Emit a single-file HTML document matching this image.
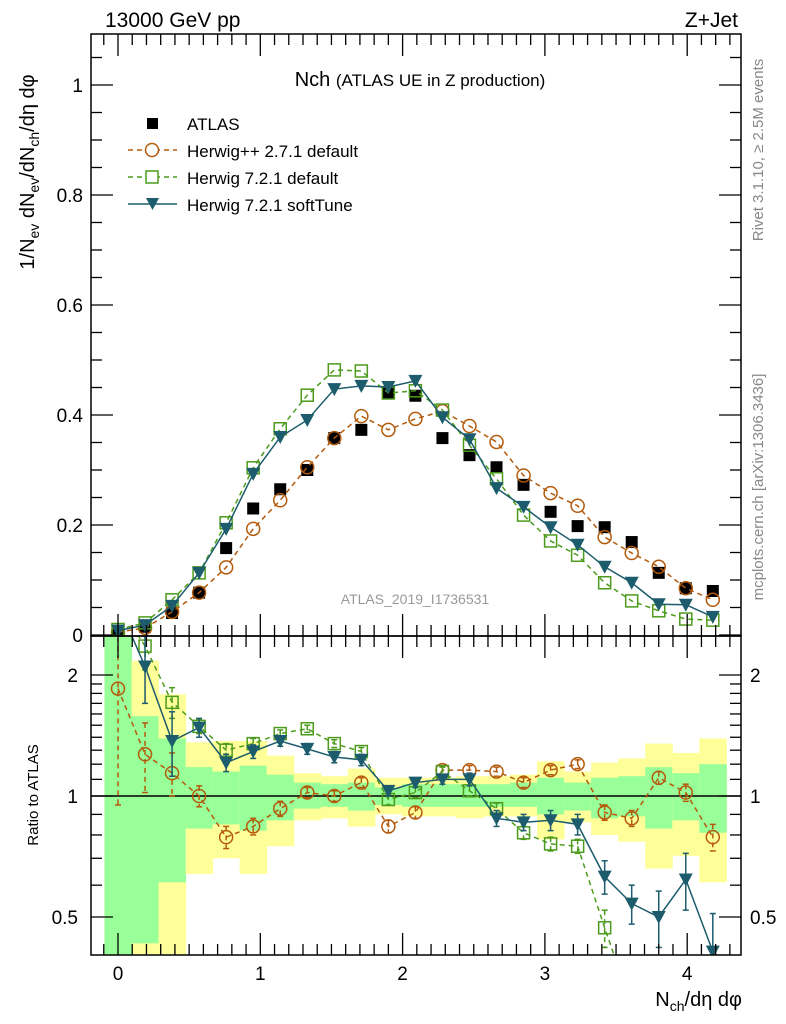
<!DOCTYPE html>
<html><head><meta charset="utf-8"><style>
html,body{margin:0;background:#fff;width:786px;height:1024px;overflow:hidden;position:relative;}
svg{display:block;font-family:"Liberation Sans",sans-serif;}
</style></head><body>
<svg id="c" width="786" height="1024" viewBox="0 0 786 1024"></svg>
<script>
const binsX=[0,0.19,0.38,0.57,0.76,0.95,1.14,1.33,1.52,1.71,1.9,2.09,2.28,2.47,2.66,2.85,3.04,3.23,3.42,3.61,3.8,3.99,4.18];
const atlas=[0.005,0.015,0.04,0.077,0.158,0.23,0.265,0.30,0.358,0.373,0.44,0.435,0.358,0.327,0.305,0.273,0.224,0.198,0.196,0.169,0.113,0.085,0.08];
const hpp=[0.005,0.013,0.042,0.077,0.123,0.193,0.245,0.305,0.358,0.398,0.373,0.393,0.407,0.38,0.351,0.29,0.258,0.235,0.178,0.149,0.124,0.085,0.064];
const h7=[0.01,0.022,0.064,0.113,0.204,0.304,0.375,0.436,0.482,0.48,0.44,0.444,0.409,0.345,0.284,0.218,0.171,0.145,0.095,0.062,0.044,0.029,0.027];
const soft=[0.008,0.018,0.053,0.113,0.193,0.293,0.36,0.391,0.447,0.453,0.451,0.462,0.396,0.356,0.267,0.233,0.196,0.164,0.124,0.095,0.056,0.055,0.033];
const rHpp=[1.85,1.27,1.14,1.0,0.79,0.84,0.93,1.02,1.0,1.08,0.84,0.91,1.16,1.16,1.15,1.08,1.16,1.2,0.91,0.88,1.11,1.02,0.79];
const rH7=[3.0,2.36,1.71,1.49,1.30,1.35,1.43,1.47,1.35,1.29,0.98,1.02,1.15,1.03,0.93,0.81,0.76,0.75,0.47,0.3,0.25,0.2,0.2];
const rSoft=[3.0,2.1,1.37,1.48,1.21,1.29,1.37,1.31,1.25,1.23,1.03,1.08,1.10,1.10,0.88,0.86,0.87,0.85,0.63,0.54,0.50,0.62,0.41];
const errHpp=[0.9,0.25,0.14,0.06,0.05,0.04,0.04,0.03,0.03,0.03,0.03,0.03,0.03,0.03,0.03,0.03,0.03,0.03,0.04,0.04,0.04,0.05,0.06];
const errH7=[0.3,0.3,0.15,0.06,0.05,0.04,0.03,0.03,0.03,0.03,0.03,0.03,0.03,0.03,0.03,0.03,0.03,0.03,0.05,0.05,0.05,0.05,0.05];
const errSoft=[0.5,0.4,0.25,0.08,0.06,0.05,0.04,0.04,0.04,0.04,0.03,0.03,0.03,0.04,0.04,0.04,0.05,0.05,0.06,0.06,0.08,0.1,0.1];
const yUp=[3,2.17,1.79,1.36,1.37,1.37,1.26,1.14,1.12,1.17,1.11,1.11,1.11,1.12,1.12,1.13,1.22,1.15,1.21,1.24,1.35,1.28,1.39];
const gUp=[3,1.58,1.39,1.18,1.15,1.19,1.13,1.08,1.07,1.08,1.05,1.07,1.07,1.07,1.07,1.08,1.11,1.08,1.11,1.12,1.18,1.14,1.20];
const gLo=[0.3,0.43,0.61,0.83,0.85,0.82,0.87,0.93,0.94,0.92,0.95,0.94,0.94,0.94,0.94,0.94,0.90,0.92,0.88,0.89,0.83,0.87,0.81];
const yLo=[0.3,0.3,0.3,0.64,0.70,0.64,0.75,0.87,0.88,0.84,0.90,0.89,0.89,0.88,0.89,0.89,0.78,0.86,0.80,0.77,0.66,0.71,0.61];
const yTicks=[0,0.2,0.4,0.6,0.8,1];
const yTickLabels=["0","0.2","0.4","0.6","0.8","1"];
const xTicks=[0,1,2,3,4];
const rTicks=[0.5,1,2];

const S=document.getElementById('c');const NS='http://www.w3.org/2000/svg';
const L=91,R=741,T=34,MB=636,RB=955;
const X=v=>118+v*142.3;
const Y=v=>635-v*550;
const RY=v=>796-Math.log2(v)*121;
function el(tag,a,parent){const e=document.createElementNS(NS,tag);for(const k in a)e.setAttribute(k,a[k]);(parent||S).appendChild(e);return e;}
function txt(s,a,parent){const e=el('text',a,parent);e.textContent=s;return e;}
const cO='#b35a0c',cG='#4c9b1c',cS='#1c5c6c';

const defs=el('defs',{});
const c1=el('clipPath',{id:'cm'},defs);el('rect',{x:L,y:T,width:R-L,height:MB-T},c1);
const c2=el('clipPath',{id:'cr'},defs);el('rect',{x:L,y:MB,width:R-L,height:RB-MB},c2);
const gM=el('g',{'clip-path':'url(#cm)'});

const gR=el('g',{'clip-path':'url(#cr)'});


const hw=0.095;
binsX.forEach((x,i)=>{
  const y1=el('rect',{x:X(x-hw),y:RY(yUp[i]),width:X(x+hw)-X(x-hw)+0.5,height:RY(yLo[i])-RY(yUp[i]),fill:'#ffff99'},gR);
  
  const g1=el('rect',{x:X(x-hw),y:RY(gUp[i]),width:X(x+hw)-X(x-hw)+0.5,height:RY(gLo[i])-RY(gUp[i]),fill:'#99ff99'},gR);
  
});
el('line',{x1:L,x2:R,y1:RY(1),y2:RY(1),stroke:'#000','stroke-width':1.5},gR);

function marker(type,cx,cy,col,parent){
  let m;
  if(type==='sq') m=el('rect',{x:cx-6,y:cy-6,width:12,height:12,fill:'#000'},parent);
  else if(type==='circ') m=el('circle',{cx,cy,r:6.5,fill:'none',stroke:col,'stroke-width':1.5},parent);
  else if(type==='osq') m=el('rect',{x:cx-6,y:cy-6,width:12,height:12,fill:'none',stroke:col,'stroke-width':1.5},parent);
  else m=el('path',{d:`M${cx-7},${cy-6}L${cx+7},${cy-6}L${cx},${cy+7}Z`,fill:col},parent);
  return m;
}
function series(vals,yf,col,dash,type,name,parent,errs){
  const pts=binsX.map((x,i)=>X(x)+','+yf(vals[i])).join(' ');
  const pl=el('polyline',{points:pts,fill:'none',stroke:col,'stroke-width':1.5,'stroke-dasharray':dash||'none'},parent);
  
  binsX.forEach((x,i)=>{
    if(errs){const a=yf(vals[i]+errs[i]),b=yf(Math.max(vals[i]-errs[i],0.05));
      el('line',{x1:X(x),x2:X(x),y1:a,y2:b,stroke:col,'stroke-width':1.5,'stroke-dasharray':dash||'none'},parent);
      el('line',{x1:X(x)-3,x2:X(x)+3,y1:a,y2:a,stroke:col,'stroke-width':1.5},parent);
      el('line',{x1:X(x)-3,x2:X(x)+3,y1:b,y2:b,stroke:col,'stroke-width':1.5},parent);}
    const m=marker(type,X(x),yf(vals[i]),col,parent);
    
  });
}
binsX.forEach((x,i)=>{const m=marker('sq',X(x),Y(atlas[i]),'#000',gM);});
series(hpp,Y,cO,'5,4','circ','herwigpp-default',gM);
series(h7,Y,cG,'5,4','osq','herwig7-default',gM);
series(soft,Y,cS,null,'tri','herwig7-softtune',gM);
series(rHpp,RY,cO,'5,4','circ','ratio-herwigpp',gR,errHpp);
series(rH7,RY,cG,'5,4','osq','ratio-herwig7',gR,errH7);
series(rSoft,RY,cS,null,'tri','ratio-softtune',gR,errSoft);

el('rect',{x:L,y:T,width:R-L,height:MB-T,fill:'none',stroke:'#000','stroke-width':1.5});
el('rect',{x:L,y:MB,width:R-L,height:RB-MB,fill:'none',stroke:'#000','stroke-width':1.5});
for(let v=0;v<=1.09;v+=0.05){const yy=Y(v);const maj=Math.abs(v/0.2-Math.round(v/0.2))<1e-6;const len=maj?22:11;
  el('line',{x1:L,x2:L+len,y1:yy,y2:yy,stroke:'#000','stroke-width':1.3});el('line',{x1:R,x2:R-len,y1:yy,y2:yy,stroke:'#000','stroke-width':1.3});}
yTicks.forEach((v,i)=>{const t=txt(yTickLabels[i],{x:83,y:Y(v)+7,'font-size':19,'text-anchor':'end'});});
for(let k=-1;k<=43;k++){const v=k/10;const xx=X(v);if(xx<L||xx>R)continue;const maj=k%10===0;const len=maj?22:11;
  [[MB,-1],[T,1],[RB,-1],[MB,1]].forEach(([y0,d])=>el('line',{x1:xx,x2:xx,y1:y0,y2:y0+d*len,stroke:'#000','stroke-width':1.3}));}
xTicks.forEach(v=>{const t=txt(String(v),{x:X(v),y:980,'font-size':19,'text-anchor':'middle'});});
[0.4,0.5,0.6,0.7,0.8,0.9,1,1.1,1.2,1.3,1.4,1.5,1.6,1.7,1.8,1.9,2].forEach(v=>{const yy=RY(v);if(yy>RB||yy<MB)return;const maj=rTicks.includes(v);const len=maj?22:11;
  el('line',{x1:L,x2:L+len,y1:yy,y2:yy,stroke:'#000','stroke-width':1.3});el('line',{x1:R,x2:R-len,y1:yy,y2:yy,stroke:'#000','stroke-width':1.3});});
rTicks.forEach(v=>{const l=String(v);const a=txt(l,{x:78,y:RY(v)+7,'font-size':19,'text-anchor':'end'});
  const b=txt(l,{x:750,y:RY(v)+7,'font-size':19});});
</script>
<svg style="position:absolute;left:0;top:0" width="786" height="1024">
<g font-family="Liberation Sans, sans-serif">
<text x="105" y="27" font-size="21">13000 GeV pp</text>
<text x="738" y="27" font-size="21" text-anchor="end">Z+Jet</text>
<text x="420" y="86" font-size="20" text-anchor="middle">Nch <tspan font-size="17">(ATLAS UE in Z production)</tspan></text>
<g font-size="17">
<rect x="147" y="118" width="11" height="11" fill="#000"/>
<text x="187" y="130">ATLAS</text>
<line x1="128" x2="177" y1="150" y2="150" stroke="#b35a0c" stroke-width="1.5" stroke-dasharray="5,4"/><circle cx="152" cy="150" r="6.5" fill="#fff" stroke="#b35a0c" stroke-width="1.5"/>
<text x="187" y="157">Herwig++ 2.7.1 default</text>
<line x1="128" x2="177" y1="177" y2="177" stroke="#4c9b1c" stroke-width="1.5" stroke-dasharray="5,4"/><rect x="146" y="171" width="12" height="12" fill="#fff" stroke="#4c9b1c" stroke-width="1.5"/>
<text x="187" y="184">Herwig 7.2.1 default</text>
<line x1="128" x2="177" y1="204" y2="204" stroke="#1c5c6c" stroke-width="1.5"/><path d="M146,198L159,198L152.5,210Z" fill="#1c5c6c"/>
<text x="187" y="211">Herwig 7.2.1 softTune</text>
</g>
<text x="415" y="604" font-size="14" fill="#999" text-anchor="middle">ATLAS_2019_I1736531</text>
<text transform="translate(34,172) rotate(-90)" font-size="20" text-anchor="middle">1/N<tspan font-size="14" dy="5">ev</tspan><tspan dy="-5"> dN</tspan><tspan font-size="14" dy="5">ev</tspan><tspan dy="-5">/dN</tspan><tspan font-size="14" dy="5">ch</tspan><tspan dy="-5">/dη dφ</tspan></text>
<text transform="translate(38,795) rotate(-90)" font-size="15" text-anchor="middle">Ratio to ATLAS</text>
<text x="742" y="1006" font-size="20" text-anchor="end">N<tspan font-size="14" dy="5">ch</tspan><tspan dy="-5">/dη dφ</tspan></text>
<text transform="translate(763,150) rotate(-90)" font-size="15" fill="#888" text-anchor="middle">Rivet 3.1.10, ≥ 2.5M events</text>
<text transform="translate(763,487) rotate(-90)" font-size="15" fill="#888" text-anchor="middle">mcplots.cern.ch [arXiv:1306.3436]</text>
</g></svg>
</body></html>
